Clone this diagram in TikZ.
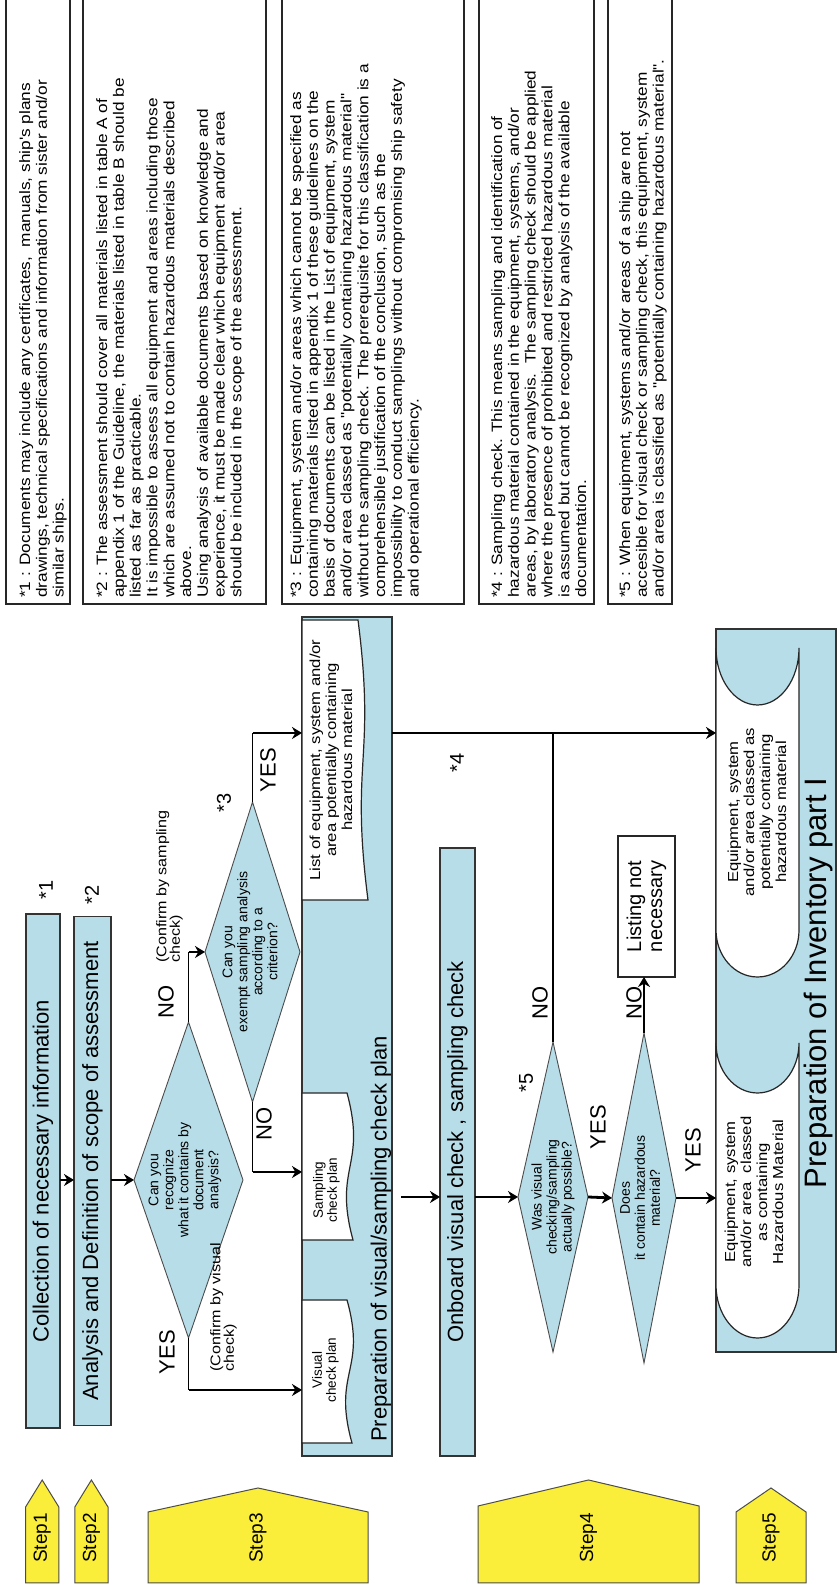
\documentclass[tikz,border=0pt]{standalone}
\usepackage{fontspec}
\setmainfont{Liberation Sans}
\newfontfamily\widefont[FakeStretch=1.15]{Liberation Sans}
\usetikzlibrary{shapes.geometric, arrows.meta, positioning, calc}
\definecolor{boxblue}{RGB}{183,221,232}
\definecolor{stepyellow}{RGB}{250,238,58}

\begin{document}
\begin{tikzpicture}[x=1pt, y=1pt, rotate=90, transform shape]
    \tikzstyle{bluebox} = [rectangle, draw=black!80, line width=1.2pt, fill=boxblue, inner sep=0pt, outer sep=0pt, text centered, font=\fontsize{22}{26}\selectfont]
    \tikzstyle{whitebox} = [rectangle, draw=black!85, line width=1.2pt, fill=white, inner sep=0pt, outer sep=0pt, align=center, font=\fontsize{20}{21}\selectfont]
    \tikzstyle{decision} = [diamond, draw=black!70, line width=0.9pt, fill=boxblue, inner sep=0pt, outer sep=0pt]
    \tikzstyle{dtext} = [align=center, inner sep=0pt, font=\fontsize{14}{15}\selectfont]
    \tikzstyle{docline} = [draw=black!85, line width=1.2pt, fill=white]
    \tikzstyle{doctext} = [align=center, inner sep=0pt, font=\widefont\fontsize{14.5}{16}\selectfont]
    \tikzstyle{plantext} = [align=center, inner sep=0pt, font=\fontsize{13.5}{14}\selectfont]
    \tikzstyle{notebox} = [draw=black!85, line width=1.1pt]
    \tikzstyle{notetext} = [anchor=north west, align=left, inner sep=0pt, font=\widefont\fontsize{15}{16.8}\selectfont]
    \tikzstyle{stepbox} = [draw=black!70, line width=1pt, fill=stepyellow]
    \tikzstyle{steplabel} = [inner sep=0pt, font=\fontsize{19}{22}\selectfont]
    \tikzstyle{yesno} = [inner sep=0pt, font=\fontsize{22}{24}\selectfont]
    \tikzstyle{confirm} = [anchor=west, align=left, inner sep=0pt, font=\widefont\fontsize{14}{13.5}\selectfont]
    \tikzstyle{starmark} = [inner sep=0pt, font=\fontsize{20}{22}\selectfont]
    \tikzstyle{link} = [line width=1.2pt]
    \tikzstyle{arrow} = [line width=2.8pt, -{Stealth[length=10pt, width=12pt]}]

    \fill[white] (0,-838) rectangle (1592,0);
    \useasboundingbox (0,-838) rectangle (1592,0);

    % step markers
    \draw[stepbox] (9,-25.6) -- (85,-25.6) -- (112,-42.2) -- (85,-58.8) -- (9,-58.8) -- cycle;
    \draw[stepbox] (9,-74.8) -- (85,-74.8) -- (112,-91.4) -- (85,-108) -- (9,-108) -- cycle;
    \draw[stepbox] (9,-148) -- (80,-148) -- (104,-258) -- (80,-368) -- (9,-368) -- cycle;
    \draw[stepbox] (9,-478) -- (86,-478) -- (112,-588.5) -- (86,-699) -- (9,-699) -- cycle;
    \draw[stepbox] (9,-736) -- (80,-736) -- (104,-771) -- (80,-806) -- (9,-806) -- cycle;
    \node[steplabel] (step1) at (54,-42.2) {Step1};
    \node[steplabel] (step2) at (54,-91.4) {Step2};
    \node[steplabel] (step3) at (54,-258) {Step3};
    \node[steplabel] (step4) at (54,-588.5) {Step4};
    \node[steplabel] (step5) at (54,-771) {Step5};

    % notes
    \draw[notebox] (988,-6) rectangle (1600,-70);
    \draw[notebox] (988,-83) rectangle (1600,-266);
    \draw[notebox] (988,-282) rectangle (1600,-464);
    \draw[notebox] (988,-479) rectangle (1600,-594);
    \draw[notebox] (988,-608) rectangle (1600,-672);
    \node[notetext] (note1) at (994,-19) {*1 : Documents may include any certificates,\ \ manuals, ship's plans\\drawings, technical specifications and information from sister and/or\\similar ships.};
    \node[notetext] (note2) at (994,-96) {*2 : The assessment should cover all materials listed in table A of\\appendix 1 of the Guideline, the materials listed in table B should be\\listed as far as practicable.\\It is impossible to assess all equipment and areas including those\\which are assumed not to contain hazardous materials described\\above.\\Using analysis of available documents based on knowledge and\\experience, it must be made clear which equipment and/or area\\should be included in the scope of the assessment.};
    \node[notetext] (note3) at (994,-290) {*3 : Equipment, system and/or areas which cannot be specified as\\containing materials listed in appendix 1 of these guidelines on the\\basis of documents can be listed in the List of equipment, system\\and/or area classed as "potentially containing hazardous material"\\without the sampling check. The prerequisite for this classification is a\\comprehensible justification of the conclusion, such as the\\impossibility to conduct samplings without compromising ship safety\\and operational efficiency.};
    \node[notetext] (note4) at (994,-491) {*4 : Sampling check. This means sampling and identification of\\hazardous material contained in the equipment, systems, and/or\\areas, by laboratory analysis.\ \ The sampling check should be applied\\where the presence of prohibited and restricted hazardous material\\is assumed but cannot be recognized by analysis of the available\\documentation.};
    \node[notetext] (note5) at (994,-619) {*5 : When equipment, systems and/or areas of a ship are not\\accesible for visual check or sampling check, this equipment, system\\and/or area is classified as "potentially containing hazardous material".};

    % step 1 and 2
    \node[bluebox, minimum width=514pt, minimum height=34pt] (collect) at (421,-43) {Collection of necessary information};
    \node[bluebox, minimum width=509pt, minimum height=37pt, below=14pt of collect] (analysis) {Analysis and Definition of scope of assessment};
    \node[starmark] (mark1) at (702,-46) {*1};
    \node[starmark] (mark2) at (697,-92) {*2};

    % step 3
    \node[bluebox, minimum width=839pt, minimum height=90pt] (prep) at (555.5,-347) {};
    \node[decision, minimum width=316pt, minimum height=109pt] (d1) at (412,-188.5) {};
    \node[dtext] at (412,-185) {Can you\\recognize\\what it contains by\\document\\analysis?};
    \node[decision, minimum width=300pt, minimum height=95pt] (d2) at (640,-252.5) {};
    \node[dtext] at (640,-250) {Can you\\exempt sampling analysis\\according to a\\criterion?};

    \draw[docline] (149,-302) -- (292,-302) -- (292,-347) .. controls (220.5,-367) and (220.5,-332) .. (149,-352) -- cycle;
    \draw[docline] (352,-302) -- (499,-302) -- (499,-347) .. controls (425.5,-367) and (425.5,-333) .. (352,-353) -- cycle;
    \draw[docline] (692,-302) -- (972,-302) -- (972,-358) .. controls (832,-376) and (832,-350) .. (692,-368) -- cycle;
    \node[plantext] (visdoc) at (222,-325.5) {Visual\\check plan};
    \node[plantext] (sampdoc) at (402,-326.5) {Sampling\\check plan};
    \node[doctext] (listdoc) at (832,-331) {List of equipment, system and/or\\area potentially containing\\hazardous material};
    \node[anchor=west, inner sep=0pt, font=\fontsize{22}{26}\selectfont] (preplabel) at (150,-381) {Preparation of visual/sampling check plan};

    \node[yesno] (no1) at (590,-166) {NO};
    \node[confirm] (conf1) at (629,-169.5) {(Confirm by sampling\\check)};
    \node[yesno] (yes1) at (240,-167) {YES};
    \node[confirm] (conf2) at (220,-223.5) {(Confirm by visual\\check)};
    \node[yesno] (yes2) at (822,-268) {YES};
    \node[yesno] (no2) at (468,-264) {NO};
    \node[starmark] (mark3) at (789,-224) {*3};

    % step 4
    \node[bluebox, minimum width=608pt, minimum height=35pt] (onboard) at (440,-457.5) {Onboard visual check , sampling check};
    \node[starmark] (mark4) at (829,-457) {*4};
    \node[decision, minimum width=310pt, minimum height=70pt] (d3) at (395,-553) {};
    \node[dtext] at (d3) {Was visual\\checking/sampling\\actually possible?};
    \node[decision, minimum width=330pt, minimum height=64pt] (d4) at (394,-644) {};
    \node[dtext] at (394,-640) {Does\\it contain hazardous\\material?};
    \node[whitebox, minimum width=141pt, minimum height=57pt] (listing) at (685.5,-646.5) {Listing not\\necessary};
    \node[starmark] (mark5) at (509,-526) {*5};
    \node[yesno] (no3) at (589,-540) {NO};
    \node[yesno] (yes3) at (465,-598) {YES};
    \node[yesno] (no4) at (589,-634) {NO};
    \node[yesno] (yes4) at (442,-693) {YES};

    % step 5
    \node[bluebox, minimum width=723pt, minimum height=120pt] (inventory) at (601.5,-776) {};
    \draw[docline] (307,-716) -- (549,-716) arc[start angle=90, end angle=270, x radius=50, y radius=41.5] -- (307,-799) arc[start angle=270, end angle=90, x radius=53, y radius=41.5] -- cycle;
    \draw[docline] (662,-716) -- (944,-716) arc[start angle=90, end angle=270, x radius=57, y radius=41.5] -- (662,-799) arc[start angle=270, end angle=90, x radius=47, y radius=41.5] -- cycle;
    \node[doctext] (contdoc) at (400,-754) {Equipment, system\\and/or area\ \ classed\\as containing\\Hazardous Material};
    \node[doctext] (potdoc) at (780,-757) {Equipment, system\\and/or area classed as\\potentially containing\\hazardous material};
    \node[inner sep=0pt, font=\fontsize{31}{34}\selectfont] (invlabel) at (609,-818) {Preparation of Inventory part I};

    % connectors
    \coordinate (c1) at (d1.east -| d2.north);
    \coordinate (c2) at (859,-252.5);
    \coordinate (c3) at (202,-188.5);
    \coordinate (c4) at (420,-252.5);
    \draw[arrow] (collect.south -| d1.north) -- (analysis.north -| d1.north);
    \draw[arrow] (analysis.south -| d1.north) -- (d1.north);
    \draw[link] (d1.east) -- (c1);
    \draw[arrow] (c1) -- (d2.north);
    \draw[link] (d1.west) -- (c3);
    \draw[arrow] (c3) -- (c3 |- prep.north);
    \draw[link] (d2.west) -- (c4);
    \draw[arrow] (c4) -- (c4 |- prep.north);
    \draw[link] (d2.east) -- (c2);
    \draw[arrow] (c2) -- (c2 |- prep.north);
    \draw[arrow] (prep.south -| c2) -- (inventory.north -| c2);
    \draw[arrow, shorten <=9pt] (prep.south -| d3.north) -- (onboard.north -| d3.north);
    \draw[arrow] (onboard.south -| d3.north) -- (d3.north);
    \draw[link] (d3.east) -- (d3.east -| c2);
    \draw[arrow] (d3.south) -- (d4.north);
    \draw[arrow] (d4.east) -- (d4.east -| listing.west);
    \draw[arrow] (d4.south) -- (d4.south |- inventory.north);
\end{tikzpicture}
\end{document}
